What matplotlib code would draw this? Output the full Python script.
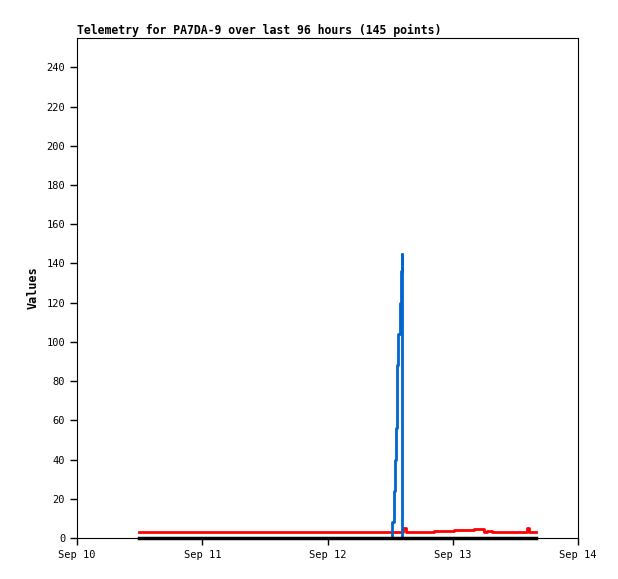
import datetime as dt
import matplotlib
matplotlib.use("Agg")
import matplotlib.pyplot as plt
import matplotlib.dates as mdates

# Telemetry data, hours after Sep 10 00:00
base = dt.datetime(2023, 9, 10)

red_hours = [11.9, 62.4, 62.5, 63.0, 64.6, 68.4, 72.2, 76.1, 78.0, 78.6, 79.5,
             80.5, 80.9, 85.5, 86.2, 86.6, 88.0]
red_values = [3.0, 3.0, 5.0, 3.0, 3.3, 3.8, 4.3, 4.8, 3.0, 3.8, 3.0,
              3.3, 3.0, 3.3, 5.0, 3.0, 3.0]

blue_hours = [11.9, 60.36, 60.65, 60.84, 61.03, 61.22, 61.41, 61.6, 61.8,
              61.99, 62.18, 62.27, 88.0]
blue_values = [0, 8, 24, 40, 56, 72, 88, 104, 120, 136, 145, 0, 0]

black_hours = [11.9, 88.0]
black_values = [0, 0]


def to_dates(hours):
    return [base + dt.timedelta(hours=h) for h in hours]


mono = "DejaVu Sans Mono"

fig = plt.figure(figsize=(6.18, 5.79), dpi=100)
ax = fig.add_axes([0.1246, 0.0708, 0.8107, 0.8636])

ax.plot(to_dates(red_hours), red_values, color="#ff0000", lw=2, drawstyle="steps-post")
ax.plot(to_dates(blue_hours), blue_values, color="#0066cc", lw=2, drawstyle="steps-post")
ax.plot(to_dates(black_hours), black_values, color="#000000", lw=2.5, clip_on=False)

ax.set_xlim(base, base + dt.timedelta(days=4))
ax.set_ylim(0, 255)
ax.set_yticks(range(0, 241, 20))
ax.xaxis.set_major_locator(mdates.DayLocator())
ax.xaxis.set_major_formatter(mdates.DateFormatter("%b %d"))

ax.tick_params(direction="out", length=5, width=1, labelsize=7.5)
for lbl in ax.get_xticklabels() + ax.get_yticklabels():
    lbl.set_fontfamily(mono)

for s in ax.spines.values():
    s.set_linewidth(0.8)

ax.set_ylabel("Values", fontfamily=mono, fontweight="bold", fontsize=8.5, labelpad=5)
ax.set_title("Telemetry for PA7DA-9 over last 96 hours (145 points)",
             fontfamily=mono, fontweight="bold", fontsize=8.3, loc="left", pad=3)

fig.savefig("out.png", dpi=100)
